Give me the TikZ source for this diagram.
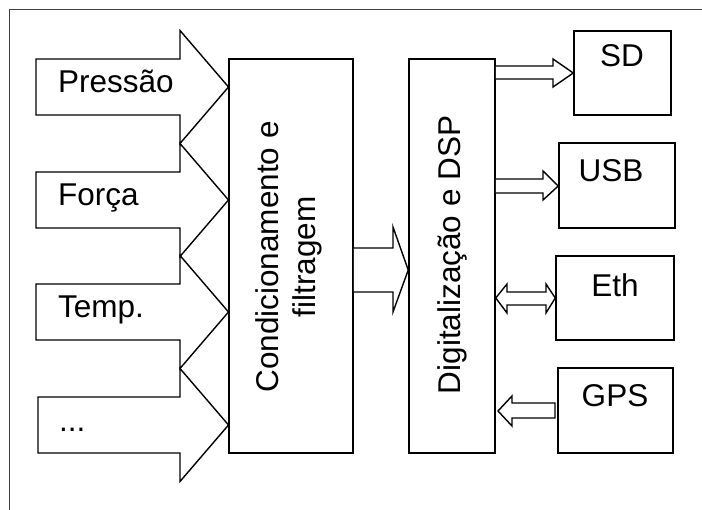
\documentclass[tikz,border=0pt]{standalone}
\usepackage{fontspec}
\setmainfont{Liberation Sans}
\begin{document}
\begin{tikzpicture}[x=1pt,y=-1pt,
  blk/.style={draw=black,line width=1.4pt,fill=white,line join=miter},
  box/.style={draw=black,line width=1.5pt,fill=white,inner sep=0pt},
  lbl/.style={font=\fontsize{31.5}{37}\selectfont,inner sep=0pt},
  frame/.style={draw=black!75,line width=1pt}]
\useasboundingbox (0,0) rectangle (702,510);
\clip (0,0) rectangle (702,510);
% outer frame (runs past the page on the right and bottom)
\draw[frame] (9,10) rectangle (760,560);

% processing blocks
\node[box,minimum width=124pt,minimum height=394pt] (cond) at (291,256) {};
\node[box,minimum width=86pt,minimum height=394pt] (dig) at (452,256) {};
\node[lbl,rotate=90,align=center] (condtxt) at (289,257) {Condicionamento e\\filtragem};
\node[lbl,rotate=90] (digtxt) at (452,255) {Digitaliza\c{c}\~ao e DSP};

% peripheral blocks
\node[box,minimum width=97pt,minimum height=84pt] (sd) at (622.5,73) {};
\node[box,minimum width=116pt,minimum height=85pt] (usb) at (617,185.5) {};
\node[box,minimum width=118pt,minimum height=84pt] (eth) at (615,298) {};
\node[box,minimum width=115pt,minimum height=85pt] (gps) at (615.5,410.5) {};
\node[lbl,anchor=base] (sdtxt) at (622,67) {SD};
\node[lbl,anchor=base] (usbtxt) at (611,182) {USB};
\node[lbl,anchor=base] (ethtxt) at (615,297) {Eth};
\node[lbl,anchor=base] (gpstxt) at (615,407) {GPS};

% sensor input arrows into the conditioning block
\foreach \c/\x in {87/36, 200/36, 312/36, 425/38}{
  \draw[blk] (\x,\c-28) -- (180,\c-28) -- (180,\c-56.5) -- (228.5,\c)
    -- (180,\c+56.5) -- (180,\c+28) -- (\x,\c+28) -- cycle;
}
\node[lbl,anchor=base west] (ina) at (58,93) {Press\~ao};
\node[lbl,anchor=base west] (inb) at (58,206) {For\c{c}a};
\node[lbl,anchor=base west] (inc) at (58,318) {Temp.};
\node[lbl,anchor=base west] (ind) at (59,432) {...};

% helper coordinates for the arrow rows
\coordinate (r1) at (0,248);
\coordinate (r2) at (0,270);
\coordinate (r3) at (0,292);
\coordinate (s1) at (0,66);
\coordinate (s2) at (0,73);
\coordinate (s3) at (0,79);
\coordinate (u1) at (0,179);
\coordinate (u2) at (0,186);
\coordinate (u3) at (0,193);
\coordinate (e2) at (0,298);

% conditioning -> digitisation
\draw[blk] (cond.east |- r1) -- (393,248) -- (393,227) -- (dig.west |- r2)
  -- (393,312) -- (393,292) -- (cond.east |- r3);

% digitisation -> SD
\draw[blk] (dig.east |- s1) -- (553,66) -- (553,59) -- (sd.west |- s2)
  -- (553,87) -- (553,79) -- (dig.east |- s3);
% digitisation -> USB
\draw[blk] (dig.east |- u1) -- (543,179) -- (543,171) -- (usb.west |- u2)
  -- (543,200) -- (543,193) -- (dig.east |- u3);
% digitisation <-> Eth
\draw[blk] (dig.east |- e2) -- (507,284) -- (507,292) -- (546,292) -- (546,284)
  -- (eth.west |- e2) -- (546,313) -- (546,305) -- (507,305) -- (507,313) -- cycle;
% GPS -> digitisation
\draw[blk] (555,403) -- (512,403) -- (512,396) -- (498,411) -- (512,426)
  -- (512,418) -- (555,418) -- cycle;
\end{tikzpicture}
\end{document}
